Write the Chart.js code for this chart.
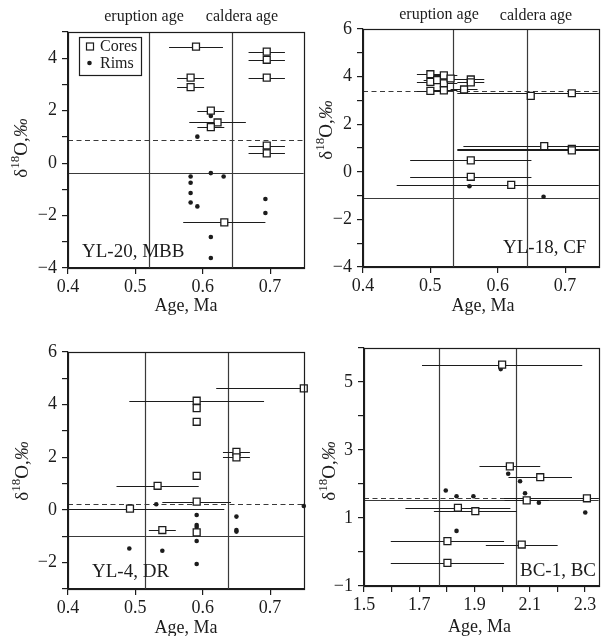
<!DOCTYPE html>
<html>
<head>
<meta charset="utf-8">
<script src="https://cdn.jsdelivr.net/npm/chart.js@4.4.1/dist/chart.umd.min.js"></script>
<style>
html,body{margin:0;padding:0;background:#fff;overflow:hidden;width:602px;height:636px}
canvas{position:absolute}
</style>
</head>
<body>
<canvas id="p1" width="310" height="318" style="left:0;top:0"></canvas>
<canvas id="p2" width="295" height="318" style="left:310px;top:0"></canvas>
<canvas id="p3" width="310" height="318" style="left:0;top:318px"></canvas>
<canvas id="p4" width="295" height="318" style="left:310px;top:318px"></canvas>
<script>
// ---- DATA ----
// YL-20, MBB
const p1CoreX = [0.59, 0.582, 0.582, 0.612, 0.622, 0.612, 0.632, 0.695, 0.695, 0.695, 0.695, 0.695];
const p1CoreY = [4.44, 3.26, 2.9, 2.0, 1.55, 1.37, -2.26, 4.25, 3.94, 3.26, 0.67, 0.37];
const p1CoreErr = [0.04, 0.02, 0.02, 0.02, 0.042, 0.02, 0.061, 0.027, 0.027, 0.027, 0.027, 0.027];
const p1RimX = [0.612, 0.592, 0.582, 0.582, 0.582, 0.582, 0.592, 0.612, 0.631, 0.693, 0.693, 0.612, 0.612];
const p1RimY = [1.8, 1.01, -0.51, -0.75, -1.14, -1.5, -1.65, -0.38, -0.51, -1.37, -1.9, -2.82, -3.62];
const p1Ages = [0.52, 0.643];        // eruption age, caldera age
const p1Levels = [0.89, -0.38];      // dashed, solid
const p1XTicks = [0.4, 0.5, 0.6, 0.7];
const p1XLabels = [0.4, 0.5, 0.6, 0.7];
const p1YTicks = [-4, -3, -2, -1, 0, 1, 2, 3, 4, 5];
const p1YLabels = [-4, -2, 0, 2, 4];

// YL-18, CF
const p2CoreX = [0.50, 0.50, 0.50, 0.51, 0.52, 0.52, 0.52, 0.53, 0.55, 0.56, 0.56, 0.649, 0.71, 0.669, 0.71, 0.71, 0.56, 0.56, 0.62];
const p2CoreY = [4.1, 3.78, 3.4, 3.85, 4.05, 3.72, 3.42, 3.92, 3.46, 3.88, 3.76, 3.19, 3.3, 1.08, 0.96, 0.9, 0.48, -0.21, -0.55];
const p2CoreErr = [0.02, 0.02, 0.02, 0.02, 0.02, 0.02, 0.02, 0.02, 0.02, 0.02, 0.02, 0, 0.17, 0.12, 0.17, 0.17, 0.09, 0.09, 0.17];
const p2RimX = [0.558, 0.668];
const p2RimY = [-0.61, -1.05];
const p2Ages = [0.534, 0.643];
const p2Levels = [3.38, -1.1];
const p2XTicks = [0.4, 0.5, 0.6, 0.7];
const p2XLabels = [0.4, 0.5, 0.6, 0.7];
const p2YTicks = [-4, -3, -2, -1, 0, 1, 2, 3, 4, 5, 6];
const p2YLabels = [-4, -2, 0, 2, 4, 6];

// YL-4, DR
const p3CoreX = [0.591, 0.591, 0.591, 0.65, 0.65, 0.591, 0.533, 0.591, 0.492, 0.54, 0.591, 0.75];
const p3CoreY = [4.15, 3.87, 3.35, 2.21, 2.0, 1.3, 0.92, 0.32, 0.05, -0.76, -0.85, 4.62];
const p3CoreErr = [0.1, 0, 0, 0.02, 0.02, 0, 0.061, 0.051, 0.14, 0.02, 0, 0.13];
const p3RimX = [0.531, 0.591, 0.591, 0.591, 0.591, 0.591, 0.491, 0.54, 0.65, 0.65, 0.65, 0.75];
const p3RimY = [0.22, -0.19, -0.57, -0.65, -1.18, -2.05, -1.46, -1.55, -0.25, -0.76, -0.82, 0.15];
const p3Ages = [0.514, 0.638];
const p3Levels = [0.23, -0.97];
const p3XTicks = [0.4, 0.5, 0.6, 0.7];
const p3XLabels = [0.4, 0.5, 0.6, 0.7];
const p3YTicks = [-3, -2, -1, 0, 1, 2, 3, 4, 5, 6];
const p3YLabels = [-2, 0, 2, 4, 6];

// BC-1, BC
const p4CoreX = [2.0, 2.028, 2.138, 2.089, 2.307, 1.84, 1.903, 1.802, 2.071, 1.802];
const p4CoreY = [5.51, 2.52, 2.2, 1.52, 1.58, 1.3, 1.2, 0.32, 0.22, -0.32];
const p4CoreErr = [0.29, 0.11, 0.115, 0.08, 0.3, 0.19, 0.15, 0.205, 0.13, 0.205];
const p4RimX = [1.995, 2.022, 2.065, 2.083, 2.133, 1.796, 1.835, 1.896, 1.835, 2.301];
const p4RimY = [5.38, 2.3, 2.08, 1.73, 1.45, 1.81, 1.64, 1.64, 0.62, 1.16];
const p4Ages = [1.77, 2.05];
const p4Levels = [1.6, 1.52];
const p4XTicks = [1.5, 1.6, 1.7, 1.8, 1.9, 2.0, 2.1, 2.2, 2.3];
const p4XLabels = [1.5, 1.7, 1.9, 2.1, 2.3];
const p4YTicks = [-1, 0, 1, 2, 3, 4, 5, 6];
const p4YLabels = [-1, 1, 3, 5];

// ---- STYLE ----
const INK = '#1c1c1c';
const LINE = '#3a3a3a';
const SERIF = '"Liberation Serif", "Times New Roman", serif';

function has(list, v){ return list.some(l => Math.abs(l - v) < 1e-6); }
function minus(v, dec){ const s = Math.abs(v).toFixed(dec); return v < -1e-9 ? '\u2212' + s : s; }

function drawYTitle(ctx, x, y){
  ctx.save();
  ctx.translate(x, y);
  ctx.rotate(-Math.PI / 2);
  const parts = [
    { t: 'δ', f: '19px ' + SERIF, dy: 7 },
    { t: '18', f: '13px ' + SERIF, dy: -1 },
    { t: 'O,', f: '19px ' + SERIF, dy: 7 },
    { t: '‰', f: 'italic 19px ' + SERIF, dy: 7 }
  ];
  let total = 0;
  parts.forEach(p => { ctx.font = p.f; p.w = ctx.measureText(p.t).width; total += p.w; });
  let cx = -total / 2;
  ctx.fillStyle = INK; ctx.textAlign = 'left'; ctx.textBaseline = 'alphabetic';
  parts.forEach(p => { ctx.font = p.f; ctx.fillText(p.t, cx, p.dy); cx += p.w; });
  ctx.restore();
}

// ---- plugin: reference lines, error bars, frame, texts ----
const decor = {
  id: 'decor',
  beforeDatasetsDraw(chart, args, o){
    const { ctx, chartArea: a, scales: { x, y } } = chart;
    ctx.save();
    ctx.beginPath(); ctx.rect(a.left, a.top, a.right - a.left, a.bottom - a.top); ctx.clip();
    ctx.strokeStyle = LINE; ctx.lineWidth = 1.2;
    o.ages.forEach(v => {
      const px = Math.round(x.getPixelForValue(v)) + 0.5;
      ctx.beginPath(); ctx.moveTo(px, a.top); ctx.lineTo(px, a.bottom); ctx.stroke();
    });
    o.levels.forEach((v, i) => {
      const py = Math.round(y.getPixelForValue(v)) + 0.5;
      ctx.setLineDash(i === 0 ? [5, 3.5] : []);
      ctx.beginPath(); ctx.moveTo(a.left, py); ctx.lineTo(a.right, py); ctx.stroke();
    });
    ctx.setLineDash([]);
    ctx.strokeStyle = INK; ctx.lineWidth = 1.1;
    o.coreX.forEach((cx, i) => {
      const e = o.coreErr[i];
      if(!e) return;
      const py = Math.round(y.getPixelForValue(o.coreY[i])) + 0.5;
      ctx.beginPath();
      ctx.moveTo(x.getPixelForValue(cx - e), py);
      ctx.lineTo(x.getPixelForValue(cx + e), py);
      ctx.stroke();
    });
    ctx.restore();
  },
  afterDraw(chart, args, o){
    const { ctx, chartArea: a } = chart;
    ctx.save();
    ctx.strokeStyle = INK; ctx.lineWidth = 1.2;
    ctx.strokeRect(Math.round(a.left) + 0.5, Math.round(a.top) + 0.5, Math.round(a.right - a.left), Math.round(a.bottom - a.top));
    ctx.fillStyle = INK; ctx.textBaseline = 'middle';
    o.texts.forEach(t => {
      ctx.font = t.size + 'px ' + SERIF;
      ctx.textAlign = t.align || 'center';
      ctx.fillText(t.t, t.x, t.y);
    });
    ctx.font = '18px ' + SERIF; ctx.textAlign = 'center';
    ctx.fillText('Age, Ma', (a.left + a.right) / 2 + o.xTitleDx, o.xTitleY);
    drawYTitle(ctx, o.yTitle[0], o.yTitle[1]);
    if(o.legend){
      const L = o.legend;
      ctx.fillStyle = '#fff';
      ctx.fillRect(L.x, L.y, L.w, L.h);
      ctx.strokeStyle = INK; ctx.lineWidth = 1.2;
      ctx.strokeRect(L.x + 0.5, L.y + 0.5, L.w, L.h);
      ctx.lineWidth = 1.2;
      ctx.strokeRect(L.x + 7.5, L.y + 6, 7, 7);
      ctx.fillStyle = INK;
      ctx.beginPath(); ctx.arc(L.x + 10.5, L.y + 26, 2.3, 0, Math.PI * 2); ctx.fill();
      ctx.font = '16px ' + SERIF; ctx.textAlign = 'left';
      ctx.fillText('Cores', L.x + 21, L.y + 10);
      ctx.fillText('Rims', L.x + 21, L.y + 27);
    }
    ctx.restore();
  }
};

function makePanel(id, d){
  const tickFont = { family: SERIF, size: 18 };
  new Chart(document.getElementById(id), {
    type: 'scatter',
    data: {
      datasets: [
        { label: 'Cores', data: d.coreX.map((x, i) => ({ x, y: d.coreY[i] })),
          pointStyle: 'rect', pointRadius: 4.9, pointHoverRadius: 4.9,
          backgroundColor: '#fff', borderColor: INK, borderWidth: 1.3, clip: false },
        { label: 'Rims', data: d.rimX.map((x, i) => ({ x, y: d.rimY[i] })),
          pointStyle: 'circle', pointRadius: 2.3, pointHoverRadius: 2.3,
          backgroundColor: INK, borderColor: INK, borderWidth: 0, clip: false }
      ]
    },
    options: {
      responsive: false, animation: false, devicePixelRatio: 1,
      layout: { padding: { top: d.padTop, right: d.padRight, left: 0, bottom: 0 } },
      plugins: {
        legend: { display: false }, tooltip: { enabled: false },
        decor: {
          ages: d.ages, levels: d.levels, coreX: d.coreX, coreY: d.coreY, coreErr: d.coreErr,
          texts: d.texts, xTitleY: d.xTitleY, xTitleDx: d.xTitleDx || 0, yTitle: d.yTitle, legend: d.legend
        }
      },
      scales: {
        x: {
          type: 'linear', min: d.xMin, max: d.xMax,
          afterBuildTicks: s => { s.ticks = d.xTicks.map(v => ({ value: v })); },
          ticks: { autoSkip: false, maxRotation: 0, padding: 2, color: INK, font: tickFont,
                   callback: v => has(d.xLabels, v) ? v.toFixed(1) : '' },
          grid: { drawOnChartArea: false, tickLength: 6, color: INK, lineWidth: 1.2 },
          border: { color: INK, width: 1.2 },
          afterFit: s => { s.height = d.xAxisH; }
        },
        y: {
          type: 'linear', min: d.yMin, max: d.yMax,
          afterBuildTicks: s => { s.ticks = d.yTicks.map(v => ({ value: v })); },
          ticks: { autoSkip: false, padding: 5, color: INK, font: tickFont,
                   callback: v => has(d.yLabels, v) ? minus(v, 0) : '' },
          grid: { drawOnChartArea: false, tickLength: 6, color: INK, lineWidth: 1.2 },
          border: { color: INK, width: 1.2 },
          afterFit: s => { s.width = d.yAxisW; }
        }
      }
    },
    plugins: [decor]
  });
}

makePanel('p1', {
  coreX: p1CoreX, coreY: p1CoreY, coreErr: p1CoreErr, rimX: p1RimX, rimY: p1RimY,
  ages: p1Ages, levels: p1Levels, xTicks: p1XTicks, xLabels: p1XLabels, yTicks: p1YTicks, yLabels: p1YLabels,
  xMin: 0.4, xMax: 0.75, yMin: -4, yMax: 5,
  yAxisW: 68, xAxisH: 50, padTop: 32, padRight: 4,
  xTitleY: 306, yTitle: [20, 148],
  legend: { x: 79, y: 37, w: 62, h: 38 },
  texts: [
    { t: 'eruption age', x: 144, y: 17, size: 16 },
    { t: 'caldera age', x: 242, y: 17, size: 16 },
    { t: 'YL-20, MBB', x: 82, y: 252, size: 19, align: 'left' }
  ]
});

makePanel('p2', {
  coreX: p2CoreX, coreY: p2CoreY, coreErr: p2CoreErr, rimX: p2RimX, rimY: p2RimY,
  ages: p2Ages, levels: p2Levels, xTicks: p2XTicks, xLabels: p2XLabels, yTicks: p2YTicks, yLabels: p2YLabels,
  xMin: 0.4, xMax: 0.75, yMin: -4, yMax: 6,
  yAxisW: 53, xAxisH: 51, padTop: 29, padRight: 2,
  xTitleY: 306, xTitleDx: 2, yTitle: [15, 130],
  texts: [
    { t: 'eruption age', x: 129, y: 15, size: 16 },
    { t: 'caldera age', x: 226, y: 16, size: 16 },
    { t: 'YL-18, CF', x: 193, y: 248, size: 19, align: 'left' }
  ]
});

makePanel('p3', {
  coreX: p3CoreX, coreY: p3CoreY, coreErr: p3CoreErr, rimX: p3RimX, rimY: p3RimY,
  ages: p3Ages, levels: p3Levels, xTicks: p3XTicks, xLabels: p3XLabels, yTicks: p3YTicks, yLabels: p3YLabels,
  xMin: 0.4, xMax: 0.75, yMin: -3, yMax: 6,
  yAxisW: 68, xAxisH: 47, padTop: 34, padRight: 4,
  xTitleY: 310, yTitle: [21, 153],
  texts: [
    { t: 'YL-4, DR', x: 92, y: 254, size: 19, align: 'left' }
  ]
});

makePanel('p4', {
  coreX: p4CoreX, coreY: p4CoreY, coreErr: p4CoreErr, rimX: p4RimX, rimY: p4RimY,
  ages: p4Ages, levels: p4Levels, xTicks: p4XTicks, xLabels: p4XLabels, yTicks: p4YTicks, yLabels: p4YLabels,
  xMin: 1.5, xMax: 2.35, yMin: -1, yMax: 6,
  yAxisW: 54, xAxisH: 50, padTop: 30, padRight: 1.5,
  xTitleY: 309, xTitleDx: -2, yTitle: [18, 153],
  texts: [
    { t: 'BC-1, BC', x: 210, y: 253, size: 19, align: 'left' }
  ]
});
</script>
</body>
</html>
